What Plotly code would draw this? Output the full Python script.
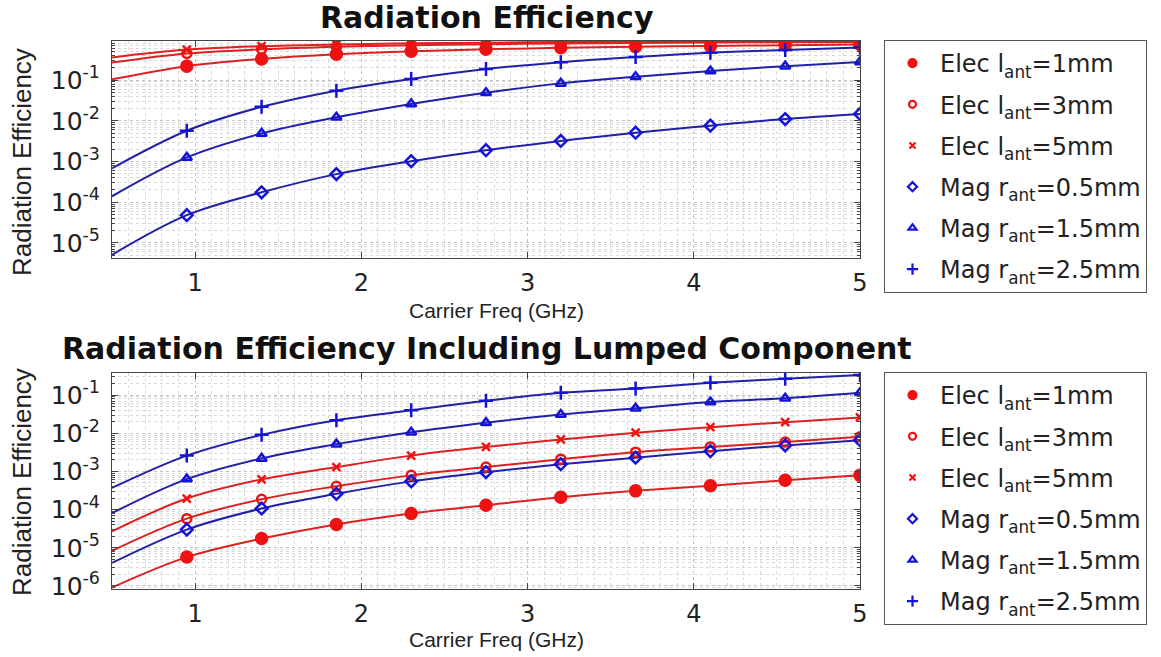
import plotly.graph_objects as go

# ---------------- data ----------------
freq_ghz = [0.5, 0.95, 1.4, 1.85, 2.3, 2.75, 3.2, 3.65, 4.1, 4.55, 5.0]

series_labels = [
    "Elec l<sub>ant</sub>=1mm",
    "Elec l<sub>ant</sub>=3mm",
    "Elec l<sub>ant</sub>=5mm",
    "Mag r<sub>ant</sub>=0.5mm",
    "Mag r<sub>ant</sub>=1.5mm",
    "Mag r<sub>ant</sub>=2.5mm",
]

# Top panel: Radiation Efficiency
top_elec_1mm = [0.104, 0.22, 0.33, 0.43, 0.51, 0.57, 0.62, 0.66, 0.69, 0.72, 0.75]
top_elec_3mm = [0.27, 0.45, 0.57, 0.66, 0.72, 0.76, 0.79, 0.82, 0.84, 0.85, 0.86]
top_elec_5mm = [0.36, 0.56, 0.68, 0.75, 0.80, 0.83, 0.86, 0.87, 0.88, 0.89, 0.90]
top_mag_05mm = [5.1e-6, 4.8e-5, 1.75e-4, 4.9e-4, 1.02e-3, 1.9e-3, 3.2e-3, 5.1e-3, 7.6e-3, 0.011, 0.0147]
top_mag_15mm = [1.4e-4, 1.26e-3, 4.9e-3, 0.0122, 0.026, 0.049, 0.083, 0.12, 0.166, 0.22, 0.28]
top_mag_25mm = [6.8e-4, 5.7e-3, 0.022, 0.055, 0.107, 0.186, 0.276, 0.37, 0.47, 0.55, 0.63]

# Bottom panel: Radiation Efficiency Including Lumped Component
bot_elec_1mm = [9.1e-7, 5.7e-6, 1.74e-5, 4.1e-5, 7.9e-5, 1.3e-4, 2.1e-4, 3.1e-4, 4.2e-4, 5.9e-4, 7.9e-4]
bot_elec_3mm = [8.3e-6, 5.8e-5, 1.87e-4, 4.1e-4, 7.9e-4, 1.3e-3, 2.1e-3, 3.2e-3, 4.4e-3, 5.9e-3, 8.1e-3]
bot_elec_5mm = [2.7e-5, 1.95e-4, 6.2e-4, 1.3e-3, 2.6e-3, 4.4e-3, 6.9e-3, 0.0104, 0.0145, 0.0195, 0.026]
bot_mag_05mm = [4.0e-6, 3.0e-5, 1.07e-4, 2.6e-4, 5.5e-4, 9.6e-4, 1.55e-3, 2.3e-3, 3.4e-3, 4.8e-3, 6.6e-3]
bot_mag_15mm = [8.1e-5, 6.3e-4, 2.2e-3, 5.2e-3, 0.0107, 0.019, 0.031, 0.045, 0.066, 0.083, 0.115]
bot_mag_25mm = [3.7e-4, 2.6e-3, 9.1e-3, 0.022, 0.04, 0.071, 0.115, 0.15, 0.21, 0.27, 0.335]

x_tick_vals = [1, 2, 3, 4, 5]
x_tick_text = ["1", "2", "3", "4", "5"]
top_y_tick_vals = [1e-5, 1e-4, 1e-3, 1e-2, 1e-1]
top_y_tick_text = ["10<sup>-5</sup>", "10<sup>-4</sup>", "10<sup>-3</sup>", "10<sup>-2</sup>", "10<sup>-1</sup>"]
bot_y_tick_vals = [1e-6, 1e-5, 1e-4, 1e-3, 1e-2, 1e-1]
bot_y_tick_text = ["10<sup>-6</sup>", "10<sup>-5</sup>", "10<sup>-4</sup>", "10<sup>-3</sup>", "10<sup>-2</sup>", "10<sup>-1</sup>"]

# ---------------- styling ----------------
W, H = 1161, 657
RED_LINE, BLUE_LINE = "#dd2020", "#2020a8"
RED_MK, BLUE_MK = "#ee1212", "#1414d8"
line_colors = [RED_LINE] * 3 + [BLUE_LINE] * 3
mk_colors = [RED_MK] * 3 + [BLUE_MK] * 3
symbols = ["circle", "circle-open", "x-thin-open", "diamond-open", "triangle-up-open", "cross-thin-open"]
mk_sizes = [11, 9, 8, 9, 9, 10]
legend_mk_sizes = [8, 7, 6, 7, 7, 8]

top_series = [top_elec_1mm, top_elec_3mm, top_elec_5mm, top_mag_05mm, top_mag_15mm, top_mag_25mm]
bot_series = [bot_elec_1mm, bot_elec_3mm, bot_elec_5mm, bot_mag_05mm, bot_mag_15mm, bot_mag_25mm]

fig = go.Figure()

def add_panel(series, xa, ya, legend_name):
    for i, vals in enumerate(series):
        fig.add_trace(go.Scatter(
            x=freq_ghz, y=vals, mode="lines",
            line=dict(color=line_colors[i], width=2, shape="spline", smoothing=1.0),
            xaxis=xa, yaxis=ya, showlegend=False, hoverinfo="skip"))
    for i, vals in enumerate(series):
        fig.add_trace(go.Scatter(
            x=freq_ghz[1:], y=vals[1:], mode="markers",
            marker=dict(symbol=symbols[i], size=mk_sizes[i], color=mk_colors[i],
                        line=dict(color=mk_colors[i], width=2.5)),
            name=series_labels[i], showlegend=False,
            xaxis=xa, yaxis=ya))
    # legend entries (smaller symbols, as in the reference legend)
    for i in range(len(series)):
        fig.add_trace(go.Scatter(
            x=[None], y=[None], mode="markers",
            marker=dict(symbol=symbols[i], size=legend_mk_sizes[i], color=mk_colors[i],
                        line=dict(color=mk_colors[i], width=2.2)),
            name=series_labels[i], legend=legend_name, legendgroup=f"{legend_name}{i}",
            xaxis=xa, yaxis=ya, hoverinfo="skip"))

add_panel(top_series, "x", "y", "legend")
add_panel(bot_series, "x2", "y2", "legend2")

def px_x(p):
    return p / W

def px_y(p):
    return 1 - p / H

grid_common = dict(showgrid=True, gridcolor="#c4c4c4", griddash="dot", gridwidth=1,
                   showline=True, linecolor="#444444", linewidth=1, mirror="allticks",
                   ticks="inside", ticklen=6, tickcolor="#444444", zeroline=False,
                   automargin=False)

xaxis_common = dict(range=[0.5, 5], tickvals=x_tick_vals, ticktext=x_tick_text,
                    tickfont=dict(family="DejaVu Sans", size=24, color="#222222"),
                    ticklabelstandoff=3,
                    minor=dict(dtick=0.1, showgrid=True, gridcolor="#dadada", griddash="dot",
                               ticks="", ticklen=3),
                    **grid_common)
yaxis_common = dict(type="log", tickfont=dict(family="DejaVu Sans", size=25, color="#222222"),
                    ticklabelstandoff=6,
                    minor=dict(dtick="D1", showgrid=True, gridcolor="#dadada", griddash="dot",
                               ticks="inside", ticklen=3, tickcolor="#444444"),
                    **grid_common)

top_dom = [px_y(258), px_y(41)]
bot_dom = [px_y(589), px_y(373)]
x_dom = [px_x(112), px_x(860)]

legend_common = dict(xanchor="left", yanchor="top",
                     bgcolor="white", bordercolor="#555555", borderwidth=1,
                     font=dict(family="DejaVu Sans", size=24, color="#222222"),
                     itemwidth=45, tracegroupgap=7, traceorder="grouped")

fig.update_layout(
    width=W, height=H, autosize=False,
    margin=dict(l=0, r=0, t=0, b=0, autoexpand=False),
    paper_bgcolor="white", plot_bgcolor="white",
    font=dict(family="DejaVu Sans", color="#222222"),
    xaxis=dict(domain=x_dom, anchor="y", **xaxis_common),
    yaxis=dict(domain=top_dom, anchor="x", range=[-5.37, -0.04],
               tickvals=top_y_tick_vals, ticktext=top_y_tick_text, **yaxis_common),
    xaxis2=dict(domain=x_dom, anchor="y2", **xaxis_common),
    yaxis2=dict(domain=bot_dom, anchor="x2", range=[-6.08, -0.42],
                tickvals=bot_y_tick_vals, ticktext=bot_y_tick_text, **yaxis_common),
    legend=dict(x=px_x(884), y=px_y(40), **legend_common),
    legend2=dict(x=px_x(884), y=px_y(372), **legend_common),
)

annotations = [
    dict(text="<b>Radiation Efficiency</b>", x=px_x(487), y=px_y(17),
         font=dict(family="DejaVu Sans", size=30, color="#111111")),
    dict(text="<b>Radiation Efficiency Including Lumped Component</b>", x=px_x(487), y=px_y(348),
         font=dict(family="DejaVu Sans", size=30, color="#111111")),
    dict(text="Carrier Freq (GHz)", x=px_x(496), y=px_y(311),
         font=dict(family="Liberation Sans", size=21, color="#222222")),
    dict(text="Carrier Freq (GHz)", x=px_x(496), y=px_y(639),
         font=dict(family="Liberation Sans", size=21, color="#222222")),
    dict(text="Radiation Efficiency", x=px_x(22), y=px_y(162), textangle=-90,
         font=dict(family="Liberation Sans", size=26, color="#222222")),
    dict(text="Radiation Efficiency", x=px_x(22), y=px_y(482), textangle=-90,
         font=dict(family="Liberation Sans", size=26, color="#222222")),
]
for a in annotations:
    a.update(xref="paper", yref="paper", showarrow=False, xanchor="center", yanchor="middle")
fig.update_layout(annotations=annotations)

fig.write_html("out.html")
